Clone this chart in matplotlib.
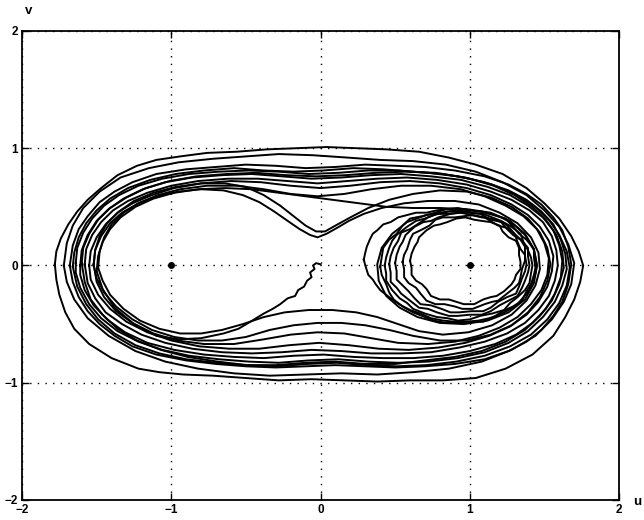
import numpy as np
import matplotlib
matplotlib.use("Agg")
import matplotlib.pyplot as plt

plt.rcParams['font.family'] = ['Liberation Sans', 'DejaVu Sans']

# ---- trajectory pieces, (u, v) ----
# big loops around both wells
outer_1 = [(-1.78,0.01),(-1.77,0.12),(-1.74,0.23),(-1.69,0.35),(-1.63,0.46),(-1.56,0.56),(-1.47,0.66),(-1.36,0.77),
           (-1.23,0.85),(-1.10,0.90),(-0.94,0.93),(-0.76,0.96),(-0.56,0.97),(-0.36,0.99),(-0.16,1.00),(0.04,1.01),
           (0.24,1.00),(0.44,0.99),(0.66,0.97),(0.86,0.92),(1.04,0.86),(1.22,0.78),(1.38,0.66),(1.50,0.53),
           (1.60,0.40),(1.68,0.25),(1.73,0.12),(1.76,0.00),(1.74,-0.14),(1.70,-0.29),(1.64,-0.44),(1.56,-0.60),
           (1.42,-0.76),(1.24,-0.88),(1.04,-0.96),(0.82,-0.98),(0.60,-0.98),(0.38,-0.99),(0.16,-0.98),(-0.06,-0.97),
           (-0.28,-0.98),(-0.50,-0.96),(-0.72,-0.94),(-0.92,-0.93),(-1.08,-0.91),(-1.22,-0.88),(-1.40,-0.79),
           (-1.55,-0.67),(-1.65,-0.54),(-1.71,-0.40),(-1.75,-0.25),(-1.77,-0.12),(-1.78,0.01)]
outer_2 = [(-1.72,0.00),(-1.70,0.19),(-1.66,0.34),(-1.59,0.49),(-1.48,0.63),(-1.34,0.75),(-1.15,0.83),(-0.95,0.88),
           (-0.72,0.91),(-0.50,0.93),(-0.28,0.95),(-0.05,0.94),(0.18,0.92),(0.40,0.90),(0.62,0.89),(0.84,0.86),
           (1.04,0.80),(1.22,0.71),(1.38,0.60),(1.50,0.47),(1.60,0.33),(1.66,0.18),(1.70,0.02),(1.68,-0.16),
           (1.63,-0.31),(1.55,-0.46),(1.44,-0.60),(1.28,-0.72),(1.08,-0.82),(0.86,-0.88),(0.62,-0.91),(0.38,-0.93),
           (0.14,-0.92),(-0.10,-0.93),(-0.34,-0.94),(-0.58,-0.92),(-0.82,-0.88),(-1.04,-0.82),(-1.24,-0.73),
           (-1.42,-0.60),(-1.56,-0.45),(-1.65,-0.29),(-1.70,-0.14),(-1.72,0.00)]
outer_3 = [(-1.68,0.00),(-1.66,0.17),(-1.62,0.31),(-1.56,0.42),(-1.48,0.54),(-1.38,0.63),(-1.26,0.71),(-1.10,0.78),
           (-0.90,0.82),(-0.70,0.84),(-0.50,0.86),(-0.30,0.85),(-0.10,0.83),(0.10,0.84),(0.30,0.86),(0.50,0.85),
           (0.70,0.84),(0.90,0.81),(1.10,0.76),(1.26,0.69),(1.38,0.61),(1.48,0.52),(1.56,0.41),(1.62,0.30),
           (1.66,0.16),(1.68,0.01),(1.66,-0.16),(1.62,-0.31),(1.56,-0.43),(1.48,-0.55),(1.38,-0.65),(1.26,-0.73),
           (1.10,-0.80),(0.90,-0.84),(0.70,-0.86),(0.50,-0.87),(0.30,-0.86),(0.10,-0.85),(-0.10,-0.86),(-0.30,-0.87),
           (-0.50,-0.86),(-0.70,-0.84),(-0.90,-0.81),(-1.10,-0.76),(-1.26,-0.69),(-1.38,-0.60),(-1.48,-0.50),
           (-1.56,-0.39),(-1.62,-0.27),(-1.66,-0.14),(-1.68,0.00)]
outer_4 = [(-1.64,0.02),(-1.63,0.15),(-1.59,0.28),(-1.53,0.40),(-1.45,0.51),(-1.35,0.60),(-1.22,0.68),(-1.06,0.74),
           (-0.88,0.78),(-0.68,0.80),(-0.48,0.81),(-0.28,0.80),(-0.08,0.78),(0.12,0.79),(0.32,0.81),(0.52,0.81),
           (0.72,0.79),(0.92,0.76),(1.10,0.71),(1.26,0.64),(1.38,0.56),(1.48,0.46),(1.56,0.35),(1.61,0.22),
           (1.64,0.10),(1.65,-0.03),(1.62,-0.17),(1.57,-0.31),(1.49,-0.44),(1.39,-0.56),(1.26,-0.66),(1.10,-0.74),
           (0.92,-0.79),(0.72,-0.82),(0.52,-0.83),(0.32,-0.82),(0.12,-0.80),(-0.08,-0.81),(-0.28,-0.83),(-0.48,-0.82),
           (-0.68,-0.80),(-0.88,-0.77),(-1.06,-0.72),(-1.22,-0.65),(-1.36,-0.56),(-1.47,-0.45),(-1.55,-0.33),
           (-1.61,-0.19),(-1.64,-0.06),(-1.64,0.02)]
outer_5 = [(-1.61,0.00),(-1.60,0.13),(-1.56,0.26),(-1.50,0.38),(-1.42,0.48),(-1.32,0.57),(-1.19,0.65),(-1.04,0.71),
           (-0.86,0.75),(-0.66,0.77),(-0.46,0.78),(-0.26,0.76),(-0.06,0.74),(0.14,0.75),(0.34,0.77),(0.54,0.78),
           (0.74,0.76),(0.94,0.73),(1.12,0.67),(1.27,0.60),(1.39,0.51),(1.49,0.41),(1.56,0.30),(1.60,0.17),
           (1.62,0.04),(1.61,-0.10),(1.57,-0.24),(1.51,-0.37),(1.42,-0.49),(1.31,-0.59),(1.17,-0.67),(1.00,-0.73),
           (0.82,-0.77),(0.62,-0.79),(0.42,-0.79),(0.22,-0.78),(0.02,-0.76),(-0.18,-0.77),(-0.38,-0.79),(-0.58,-0.78),
           (-0.78,-0.76),(-0.98,-0.72),(-1.16,-0.66),(-1.31,-0.57),(-1.43,-0.46),(-1.52,-0.34),(-1.58,-0.21),
           (-1.61,-0.08),(-1.61,0.00)]
outer_6 = [(-1.58,0.01),(-1.57,0.14),(-1.53,0.26),(-1.47,0.37),(-1.39,0.47),(-1.29,0.55),(-1.16,0.62),(-1.00,0.68),
           (-0.82,0.72),(-0.62,0.74),(-0.42,0.74),(-0.22,0.72),(-0.02,0.70),(0.18,0.72),(0.38,0.74),(0.58,0.75),
           (0.78,0.73),(0.98,0.69),(1.14,0.63),(1.28,0.56),(1.40,0.47),(1.49,0.37),(1.55,0.25),(1.58,0.13),
           (1.59,0.00),(1.57,-0.13),(1.53,-0.26),(1.46,-0.38),(1.37,-0.49),(1.25,-0.58),(1.10,-0.65),(0.93,-0.70),
           (0.74,-0.74),(0.54,-0.75),(0.34,-0.75),(0.14,-0.73),(-0.06,-0.72),(-0.26,-0.74),(-0.46,-0.75),(-0.66,-0.74),
           (-0.86,-0.71),(-1.04,-0.66),(-1.20,-0.59),(-1.33,-0.50),(-1.44,-0.40),(-1.51,-0.28),(-1.56,-0.15),
           (-1.58,0.01)]
outer_7 = [(-1.55,0.00),(-1.54,0.12),(-1.50,0.24),(-1.44,0.35),(-1.36,0.45),(-1.26,0.53),(-1.13,0.60),(-0.98,0.66),
           (-0.80,0.70),(-0.60,0.72),(-0.40,0.71),(-0.20,0.68),(0.00,0.66),(0.20,0.68),(0.40,0.71),(0.60,0.72),
           (0.80,0.70),(0.98,0.66),(1.14,0.60),(1.28,0.52),(1.39,0.43),(1.47,0.33),(1.53,0.21),(1.56,0.08),
           (1.55,-0.05),(1.52,-0.18),(1.46,-0.31),(1.38,-0.42),(1.27,-0.52),(1.13,-0.60),(0.97,-0.66),(0.79,-0.70),
           (0.59,-0.72),(0.39,-0.71),(0.19,-0.68),(-0.01,-0.66),(-0.21,-0.68),(-0.41,-0.71),(-0.61,-0.71),
           (-0.81,-0.69),(-1.00,-0.64),(-1.16,-0.57),(-1.30,-0.48),(-1.41,-0.37),(-1.49,-0.25),(-1.54,-0.12),
           (-1.55,0.00)]
outer_8 = [(-1.52,0.01),(-1.51,0.13),(-1.47,0.25),(-1.41,0.36),(-1.33,0.45),(-1.22,0.53),(-1.09,0.60),(-0.94,0.65),
           (-0.76,0.68),(-0.56,0.68),(-0.38,0.65),(-0.20,0.61),(-0.02,0.59),(0.16,0.61),(0.34,0.65),(0.54,0.68),
           (0.74,0.68),(0.94,0.65),(1.10,0.59),(1.24,0.51),(1.36,0.42),(1.45,0.31),(1.50,0.19),(1.53,0.06),
           (1.52,-0.08),(1.48,-0.21),(1.41,-0.33),(1.32,-0.44),(1.20,-0.53),(1.06,-0.60),(0.90,-0.65),(0.72,-0.67),
           (0.52,-0.66),(0.34,-0.62),(0.16,-0.58),(-0.02,-0.57),(-0.20,-0.59),(-0.38,-0.63),(-0.58,-0.67),
           (-0.78,-0.67),(-0.96,-0.64),(-1.12,-0.58),(-1.26,-0.49),(-1.37,-0.39),(-1.45,-0.27),(-1.50,-0.14),
           (-1.52,0.01)]
outer_9 = [(-1.66,-0.01),(-1.65,0.11),(-1.62,0.24),(-1.57,0.36),(-1.50,0.47),(-1.41,0.57),(-1.29,0.66),(-1.14,0.73),
           (-0.97,0.78),(-0.78,0.81),(-0.58,0.83),(-0.38,0.81),(-0.18,0.80),(0.02,0.81),(0.22,0.83),(0.42,0.82),
           (0.62,0.80),(0.82,0.78),(1.00,0.74),(1.16,0.68),(1.30,0.60),(1.42,0.50),(1.51,0.39),(1.58,0.26),
           (1.62,0.12),(1.63,-0.02),(1.60,-0.16),(1.55,-0.30),(1.47,-0.43),(1.37,-0.55),(1.24,-0.65),(1.08,-0.73),
           (0.90,-0.78),(0.70,-0.81),(0.50,-0.84),(0.30,-0.84),(0.10,-0.82),(-0.10,-0.83),(-0.30,-0.85),(-0.50,-0.85),
           (-0.70,-0.83),(-0.90,-0.80),(-1.08,-0.75),(-1.24,-0.68),(-1.38,-0.58),(-1.49,-0.46),(-1.57,-0.33),
           (-1.63,-0.18),(-1.66,-0.01)]
outer_10 = [(-1.60,0.02),(-1.59,0.15),(-1.55,0.27),(-1.49,0.39),(-1.41,0.49),(-1.30,0.58),(-1.17,0.66),(-1.01,0.72),
            (-0.83,0.76),(-0.63,0.78),(-0.43,0.79),(-0.23,0.77),(-0.03,0.76),(0.17,0.77),(0.37,0.79),(0.57,0.80),
            (0.77,0.79),(0.97,0.75),(1.15,0.69),(1.30,0.61),(1.43,0.51),(1.53,0.39),(1.60,0.26),(1.65,0.12),
            (1.67,-0.02),(1.65,-0.17),(1.60,-0.32),(1.52,-0.46),(1.41,-0.59),(1.27,-0.69),(1.10,-0.77),(0.91,-0.82),
            (0.71,-0.85),(0.51,-0.86),(0.31,-0.85),(0.11,-0.83),(-0.09,-0.84),(-0.29,-0.86),(-0.49,-0.85),
            (-0.69,-0.82),(-0.89,-0.78),(-1.07,-0.72),(-1.23,-0.64),(-1.36,-0.54),(-1.46,-0.42),(-1.54,-0.29),
            (-1.58,-0.14),(-1.60,0.02)]

# loops that pass close to the saddle
dip_1 = [(-1.49,-0.02),(-1.48,0.12),(-1.45,0.24),(-1.40,0.35),(-1.32,0.45),(-1.22,0.53),(-1.10,0.59),(-0.95,0.63),
         (-0.80,0.65),(-0.65,0.64),(-0.52,0.60),(-0.41,0.54),(-0.31,0.46),(-0.22,0.38),(-0.14,0.31),(-0.07,0.26),
         (-0.02,0.24),(0.04,0.27),(0.11,0.32),(0.19,0.38),(0.29,0.44),(0.41,0.49),(0.56,0.53),(0.72,0.55),
         (0.90,0.55),(1.06,0.52),(1.20,0.45),(1.32,0.36),(1.41,0.24),(1.46,0.11),(1.47,-0.03),(1.44,-0.17),
         (1.38,-0.30),(1.28,-0.42),(1.15,-0.51),(0.99,-0.57),(0.82,-0.59),(0.66,-0.56),(0.52,-0.50),(0.38,-0.44),
         (0.24,-0.40),(0.08,-0.38),(-0.08,-0.38),(-0.24,-0.40),(-0.38,-0.44),(-0.52,-0.50),(-0.66,-0.55),
         (-0.80,-0.58),(-0.94,-0.58),(-1.08,-0.54),(-1.21,-0.47),(-1.32,-0.37),(-1.41,-0.25),(-1.46,-0.13),
         (-1.49,-0.02)]
dip_2 = [(-1.52,0.00),(-1.51,0.13),(-1.48,0.25),(-1.43,0.36),(-1.35,0.46),(-1.25,0.55),(-1.12,0.62),(-0.97,0.67),
         (-0.80,0.70),(-0.64,0.70),(-0.50,0.67),(-0.38,0.60),(-0.27,0.51),(-0.18,0.42),(-0.10,0.34),(-0.03,0.29),
         (0.03,0.29),(0.10,0.34),(0.20,0.41),(0.32,0.49),(0.46,0.56),(0.62,0.61),(0.80,0.64),(0.98,0.63),
         (1.14,0.58),(1.28,0.50),(1.39,0.40),(1.47,0.28),(1.52,0.15),(1.54,0.01),(1.52,-0.13),(1.47,-0.27),
         (1.39,-0.40),(1.28,-0.51),(1.14,-0.59),(0.98,-0.64),(0.80,-0.64),(0.62,-0.60),(0.46,-0.55),(0.30,-0.51),
         (0.14,-0.49),(-0.02,-0.49),(-0.18,-0.51),(-0.34,-0.55),(-0.50,-0.61),(-0.66,-0.64),(-0.82,-0.64),
         (-0.98,-0.61),(-1.13,-0.55),(-1.26,-0.46),(-1.37,-0.35),(-1.45,-0.23),(-1.50,-0.11),(-1.52,0.00)]

# loops inside the right well
ring_1 = [(0.60,0.04),(0.61,0.10),(0.63,0.16),(0.65,0.20),(0.66,0.24),(0.71,0.30),(0.76,0.34),(0.80,0.35),
          (0.85,0.37),(0.91,0.40),(0.97,0.41),(1.03,0.39),(1.08,0.38),(1.14,0.37),(1.20,0.34),(1.22,0.29),
          (1.26,0.24),(1.31,0.21),(1.33,0.15),(1.33,0.09),(1.34,0.03),(1.34,-0.03),(1.31,-0.08),(1.30,-0.12),
          (1.28,-0.16),(1.23,-0.22),(1.18,-0.26),(1.14,-0.27),(1.09,-0.29),(1.03,-0.33),(0.96,-0.33),(0.91,-0.31),
          (0.86,-0.29),(0.80,-0.29),(0.74,-0.26),(0.71,-0.20),(0.68,-0.16),(0.64,-0.13),(0.61,-0.08),(0.61,-0.02),
          (0.60,0.04)]
ring_2 = [(0.55,0.03),(0.56,0.09),(0.58,0.14),(0.60,0.22),(0.62,0.27),(0.67,0.30),(0.73,0.34),(0.77,0.39),
          (0.82,0.41),(0.90,0.41),(0.96,0.42),(1.02,0.43),(1.10,0.41),(1.15,0.37),(1.19,0.34),(1.25,0.32),
          (1.30,0.27),(1.32,0.20),(1.34,0.14),(1.37,0.09),(1.37,0.04),(1.35,-0.03),(1.34,-0.10),(1.33,-0.15),
          (1.30,-0.19),(1.24,-0.25),(1.19,-0.30),(1.15,-0.31),(1.10,-0.33),(1.02,-0.37),(0.95,-0.37),(0.90,-0.35),
          (0.83,-0.33),(0.77,-0.33),(0.71,-0.30),(0.67,-0.24),(0.64,-0.19),(0.59,-0.15),(0.56,-0.10),(0.56,-0.03),
          (0.55,0.03)]
ring_3 = [(0.50,0.02),(0.51,0.09),(0.53,0.16),(0.55,0.20),(0.57,0.26),(0.63,0.33),(0.69,0.37),(0.74,0.38),
          (0.79,0.41),(0.87,0.44),(0.94,0.45),(1.01,0.43),(1.08,0.41),(1.14,0.40),(1.21,0.37),(1.25,0.31),
          (1.29,0.26),(1.34,0.22),(1.37,0.16),(1.37,0.08),(1.38,0.01),(1.37,-0.05),(1.35,-0.11),(1.33,-0.18),
          (1.31,-0.24),(1.25,-0.27),(1.19,-0.31),(1.14,-0.36),(1.09,-0.39),(1.01,-0.39),(0.93,-0.40),(0.87,-0.40),
          (0.81,-0.37),(0.74,-0.34),(0.67,-0.33),(0.63,-0.28),(0.59,-0.22),(0.55,-0.17),(0.51,-0.12),(0.51,-0.05),
          (0.50,0.02)]
ring_4 = [(0.46,0.01),(0.47,0.08),(0.49,0.15),(0.52,0.21),(0.54,0.28),(0.60,0.31),(0.66,0.36),(0.72,0.41),
          (0.78,0.44),(0.86,0.44),(0.93,0.45),(1.00,0.45),(1.07,0.44),(1.14,0.39),(1.22,0.37),(1.26,0.33),
          (1.30,0.27),(1.35,0.21),(1.39,0.15),(1.39,0.08),(1.40,0.00),(1.39,-0.06),(1.37,-0.13),(1.35,-0.19),
          (1.32,-0.26),(1.26,-0.30),(1.20,-0.34),(1.14,-0.39),(1.08,-0.42),(1.00,-0.42),(0.92,-0.43),(0.86,-0.43),
          (0.78,-0.40),(0.72,-0.37),(0.66,-0.36),(0.60,-0.30),(0.54,-0.24),(0.51,-0.19),(0.47,-0.14),(0.47,-0.06),
          (0.46,0.01)]
ring_5 = [(0.43,0.00),(0.44,0.07),(0.46,0.15),(0.48,0.21),(0.51,0.26),(0.58,0.33),(0.64,0.38),(0.70,0.40),
          (0.76,0.43),(0.85,0.46),(0.93,0.47),(1.00,0.45),(1.09,0.44),(1.15,0.41),(1.21,0.38),(1.28,0.33),
          (1.34,0.27),(1.36,0.20),(1.39,0.13),(1.41,0.07),(1.42,0.00),(1.41,-0.07),(1.40,-0.15),(1.37,-0.21),
          (1.32,-0.27),(1.27,-0.32),(1.23,-0.38),(1.15,-0.41),(1.07,-0.43),(1.00,-0.46),(0.92,-0.47),(0.85,-0.45),
          (0.78,-0.44),(0.70,-0.41),(0.62,-0.37),(0.58,-0.32),(0.53,-0.28),(0.48,-0.21),(0.44,-0.13),(0.44,-0.07),
          (0.43,0.00)]
ring_6 = [(0.40,-0.01),(0.41,0.07),(0.42,0.15),(0.46,0.22),(0.51,0.27),(0.55,0.34),(0.60,0.40),(0.68,0.42),
          (0.77,0.45),(0.84,0.48),(0.92,0.49),(1.00,0.47),(1.07,0.46),(1.16,0.43),(1.24,0.40),(1.29,0.33),
          (1.33,0.27),(1.38,0.22),(1.43,0.14),(1.43,0.07),(1.44,-0.02),(1.43,-0.08),(1.41,-0.16),(1.38,-0.22),
          (1.35,-0.30),(1.29,-0.35),(1.22,-0.39),(1.16,-0.44),(1.09,-0.48),(1.00,-0.48),(0.92,-0.49),(0.84,-0.49),
          (0.76,-0.47),(0.68,-0.43),(0.62,-0.40),(0.55,-0.35),(0.49,-0.29),(0.46,-0.23),(0.44,-0.16),(0.41,-0.08),
          (0.40,-0.01)]
ring_7 = [(-1.50,-0.05),(-1.49,0.08),(-1.46,0.20),(-1.41,0.31),(-1.34,0.41),(-1.24,0.50),(-1.12,0.57),(-0.98,0.62),
          (-0.82,0.65),(-0.64,0.66),(-0.46,0.65),(-0.28,0.62),(-0.10,0.59),(0.08,0.56),(0.26,0.53),(0.44,0.50),
          (0.62,0.49),(0.80,0.49),(0.98,0.48),(1.14,0.45),(1.27,0.38),(1.37,0.27),(1.43,0.14),(1.45,0.00),
          (1.43,-0.15),(1.37,-0.29),(1.26,-0.40),(1.12,-0.47),(0.96,-0.50),(0.80,-0.49),(0.65,-0.44),(0.53,-0.36),
          (0.44,-0.26),(0.39,-0.13),(0.38,0.01),(0.41,0.15),(0.48,0.27),(0.58,0.37),(0.71,0.43),(0.86,0.46),
          (1.00,0.46)]
ring_8 = [(0.29,0.05),(0.30,0.11),(0.31,0.16),(0.33,0.22),(0.35,0.27),(0.38,0.30),(0.42,0.35),(0.47,0.37),
          (0.52,0.41),(0.58,0.43),(0.64,0.45),(0.71,0.45),(0.78,0.47),(0.85,0.48),(0.93,0.48),(1.00,0.47),
          (1.08,0.46),(1.14,0.44),(1.21,0.41),(1.27,0.37),(1.32,0.32),(1.37,0.26),(1.40,0.20),(1.43,0.13),
          (1.44,0.07),(1.45,0.00),(1.44,-0.07),(1.42,-0.14),(1.40,-0.21),(1.36,-0.27),(1.32,-0.33),(1.26,-0.38),
          (1.20,-0.42),(1.13,-0.45),(1.06,-0.47),(0.98,-0.48),(0.90,-0.48),(0.82,-0.47),(0.74,-0.45),(0.67,-0.41),
          (0.60,-0.38),(0.54,-0.34),(0.49,-0.30),(0.44,-0.25),(0.40,-0.21),(0.37,-0.16),(0.35,-0.12),(0.32,-0.08),
          (0.31,-0.04),(0.30,0.00),(0.29,0.05)]

# start of the path near the saddle
start = [(0.00,0.01),(-0.03,0.02),(-0.05,0.00),(-0.04,-0.03),(-0.07,-0.06),(-0.06,-0.10),(-0.09,-0.13),
         (-0.11,-0.18),(-0.15,-0.21),(-0.17,-0.26),(-0.22,-0.28),(-0.27,-0.33),(-0.32,-0.37),(-0.38,-0.41),
         (-0.47,-0.48),(-0.55,-0.54),(-0.65,-0.58),(-0.80,-0.62),(-0.95,-0.63),(-1.10,-0.60),(-1.25,-0.50),
         (-1.38,-0.36),(-1.46,-0.20),(-1.50,-0.05)]

# equilibria (centres of the two wells)
eq_u = [-1, 1]
eq_v = [0, 0]

ticks = [-2, -1, 0, 1, 2]

pieces = [outer_1, outer_2, outer_3, outer_4, outer_5, outer_6, outer_7, outer_8, outer_9, outer_10,
          dip_1, dip_2, ring_1, ring_2, ring_3, ring_4, ring_5, ring_6, ring_7, ring_8, start]

fig = plt.figure(figsize=(6.44, 5.20), dpi=100)
ax = fig.add_axes([0.0342, 0.0385, 0.927, 0.902])

for p in pieces:
    p = np.array(p)
    ax.plot(p[:, 0], p[:, 1], color='black', linewidth=1.4)

ax.plot(eq_u, eq_v, 'k.', markersize=8)

ax.set_xlim(-2, 2)
ax.set_ylim(-2, 2)
ax.set_xticks(ticks)
ax.set_yticks(ticks)
ax.tick_params(direction='in', length=5, width=1, top=True, right=True, pad=3,
               labelsize=8.5)
for lab in ax.get_xticklabels() + ax.get_yticklabels():
    lab.set_fontweight('bold')
ax.grid(True, color='black', linestyle=(0, (1, 4.5)), linewidth=1.0)
for s in ax.spines.values():
    s.set_linewidth(1.3)

fig.text(0.99, 0.035, 'u', fontsize=9.5, fontweight='bold', ha='center', va='center')
fig.text(0.045, 0.978, 'v', fontsize=9.5, fontweight='bold', ha='center', va='center')

fig.savefig('out.png', dpi=100)
